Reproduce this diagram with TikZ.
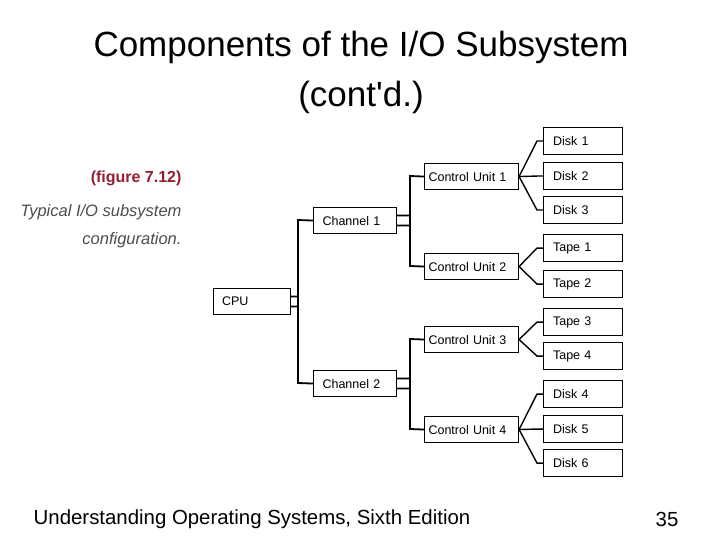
\documentclass[tikz,border=0pt]{standalone}
\usepackage{fontspec}
\setmainfont{Liberation Sans}
\begin{document}
\begin{tikzpicture}[x=1pt,y=-1pt,
  box/.style={draw,line width=1.1pt,minimum height=26pt,inner sep=0pt,anchor=north west,font=\fontsize{12.5}{15}\selectfont},
  ln/.style={line width=1.8pt}]
\useasboundingbox (0,0) rectangle (720,540);
\node at (361,47) {\fontsize{35}{38}\selectfont Components of the I/O Subsystem};
\node at (361,97) {\fontsize{35}{38}\selectfont (cont\textquotesingle d.)};
\node at (252,519) {\fontsize{20.4}{22}\selectfont Understanding Operating Systems, Sixth Edition};
\node at (667,519) {\fontsize{20.4}{22}\selectfont 35};
\definecolor{capred}{RGB}{150,30,50}
\node[anchor=east,text=capred] (fig) at (185,178) {\fontsize{16}{18}\selectfont\bfseries (figure 7.12)};
\node[anchor=east,text=black!70] (c1) at (185,212) {\fontsize{16.5}{18}\selectfont\itshape Typical I/O subsystem};
\node[anchor=east,text=black!70] (c2) at (185,240) {\fontsize{16.5}{18}\selectfont\itshape configuration.};
% boxes
\node[box,minimum width=77pt,text width=72pt,align=left] (cpu) at (213,288) {\hspace{6pt}CPU};
\node[box,minimum width=83pt,text width=77pt] (ch1) at (313,207) {\hspace{6pt}Channel 1};
\node[box,minimum width=83pt,text width=77pt] (ch2) at (313,370) {\hspace{6pt}Channel 2};
\foreach \n/\y/\t in {cu1/163/Control Unit 1,cu2/253/Control Unit 2,cu3/326/Control Unit 3,cu4/416/Control Unit 4}
  \node[box,minimum width=94pt,text width=92pt] (\n) at (424,\y) {\hspace{3pt}\t};
\foreach \n/\y/\t in {d1/127/Disk 1,d2/162/Disk 2,d3/196/Disk 3,t1/234/Tape 1,t2/270/Tape 2,t3/308/Tape 3,t4/342/Tape 4,d4/380/Disk 4,d5/415/Disk 5,d6/449/Disk 6}
  \node[box,minimum width=79pt,minimum height=27pt,text width=72pt] (\n) at (543,\y) {\hspace{6pt}\t};
% connectors
\draw[ln] ([yshift=-5pt]cpu.east) -| (298,220) -- (ch1.west);
\draw[ln] ([yshift=5pt]cpu.east) -| (298,383) -- (ch2.west);
\draw[ln] ([yshift=-5pt]ch1.east) -| (410,176) -- (cu1.west);
\draw[ln] ([yshift=5pt]ch1.east) -| (410,266) -- (cu2.west);
\draw[ln] ([yshift=-5pt]ch2.east) -| (410,339) -- (cu3.west);
\draw[ln] ([yshift=5pt]ch2.east) -| (410,429) -- (cu4.west);
\foreach \c/\d in {cu1/d1,cu1/d2,cu1/d3,cu2/t1,cu2/t2,cu3/t3,cu3/t4,cu4/d4,cu4/d5,cu4/d6}
  \draw[line width=1.4pt] (\c.east) -- ([xshift=-6pt]\d.west) -- (\d.west);
\end{tikzpicture}
\end{document}
